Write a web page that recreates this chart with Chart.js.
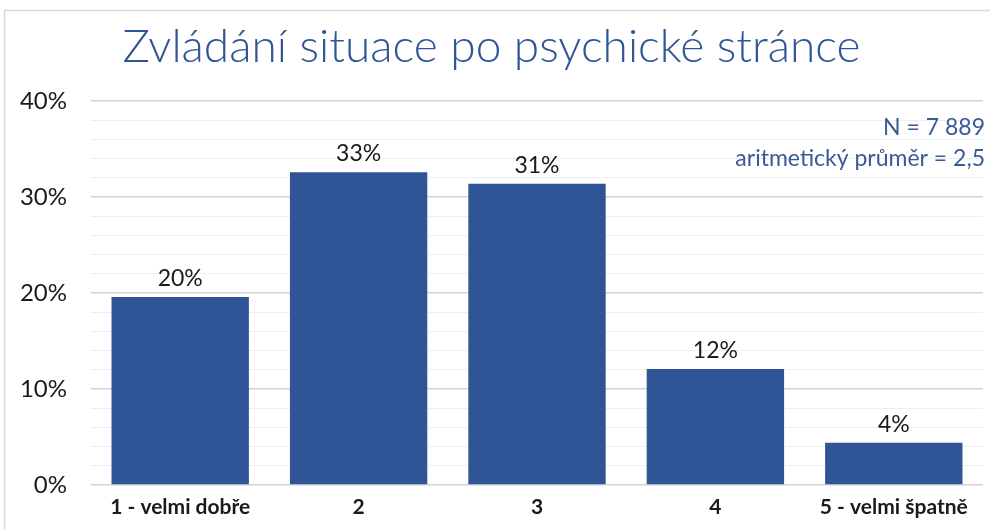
<!DOCTYPE html>
<html>
<head>
<meta charset="utf-8">
<script src="https://cdn.jsdelivr.net/npm/chart.js@4.4.1/dist/chart.umd.min.js"></script>
<style>
    html, body { margin: 0; padding: 0; background: #fff; }
    #wrap { width: 990px; height: 530px; position: relative; }
</style>
</head>
<body>
<div id="wrap"><canvas id="chart" width="990" height="530"></canvas></div>
<script>
// data
const categories = ['1 - velmi dobře', '2', '3', '4', '5 - velmi špatně'];
const shares = [19.6, 32.6, 31.4, 12.1, 4.4];
const valueLabels = ['20%', '33%', '31%', '12%', '4%'];
const noteLines = ['N = 7 889', 'aritmetický průměr = 2,5'];

const BLUE = '#2F5597';
const FONT = 'Lato, "Open Sans", sans-serif';

// value labels, notes and the outer frame
const extras = {
    id: 'extras',
    beforeDraw(chart) {
        const ctx = chart.ctx;
        ctx.save();
        ctx.strokeStyle = '#d9d9d9';
        ctx.lineWidth = 1.5;
        ctx.beginPath();
        ctx.moveTo(4.5, 530);
        ctx.lineTo(4.5, 10.5);
        ctx.lineTo(990, 10.5);
        ctx.stroke();
        ctx.restore();
    },
    afterDatasetsDraw(chart) {
        const ctx = chart.ctx;
        const meta = chart.getDatasetMeta(0);
        ctx.save();
        ctx.fillStyle = '#1a1a1a';
        ctx.font = '23px ' + FONT;
        ctx.textAlign = 'center';
        ctx.textBaseline = 'bottom';
        meta.data.forEach((bar, i) => {
            ctx.fillText(valueLabels[i], bar.x, bar.y - 7);
        });
        ctx.fillStyle = '#3A5A96';
        ctx.font = '23px ' + FONT;
        ctx.textAlign = 'right';
        ctx.textBaseline = 'middle';
        const right = chart.chartArea.right + 2;
        const y = chart.scales.y;
        ctx.fillText(noteLines[0], right, y.getPixelForValue(37.2));
        ctx.fillText(noteLines[1], right, y.getPixelForValue(34.0));
        ctx.restore();
    }
};

new Chart(document.getElementById('chart'), {
    type: 'bar',
    data: {
        labels: categories,
        datasets: [{
            data: shares,
            backgroundColor: BLUE,
            barPercentage: 0.77,
            categoryPercentage: 1
        }]
    },
    options: {
        responsive: false,
        animation: false,
        layout: { padding: { left: 0, right: 7, top: 0, bottom: 0 } },
        plugins: {
            legend: { display: false },
            tooltip: { enabled: false },
            title: {
                display: true,
                text: 'Zvládání situace po psychické stránce',
                color: BLUE,
                font: { family: FONT, size: 46, weight: '300' },
                padding: { top: 20, bottom: 26 }
            }
        },
        scales: {
            x: {
                grid: { display: false, drawTicks: false },
                border: { display: false },
                ticks: {
                    color: '#1a1a1a',
                    padding: 12,
                    font: { family: FONT, size: 21, weight: 'bold', lineHeight: 1 }
                }
            },
            y: {
                min: 0,
                max: 40,
                afterFit(scale) { scale.width = 91; },
                border: { display: false },
                grid: {
                    drawTicks: false,
                    color: ctx => ctx.tick.value % 10 === 0 ? '#d4d4d4' : '#eeeeee',
                    lineWidth: ctx => ctx.tick.value % 10 === 0 ? 1.5 : 1
                },
                ticks: {
                    stepSize: 2,
                    autoSkip: false,
                    padding: 24,
                    color: '#1a1a1a',
                    font: { family: FONT, size: 24 },
                    callback: v => v % 10 === 0 ? v + '%' : ''
                }
            }
        }
    },
    plugins: [extras]
});
</script>
</body>
</html>
